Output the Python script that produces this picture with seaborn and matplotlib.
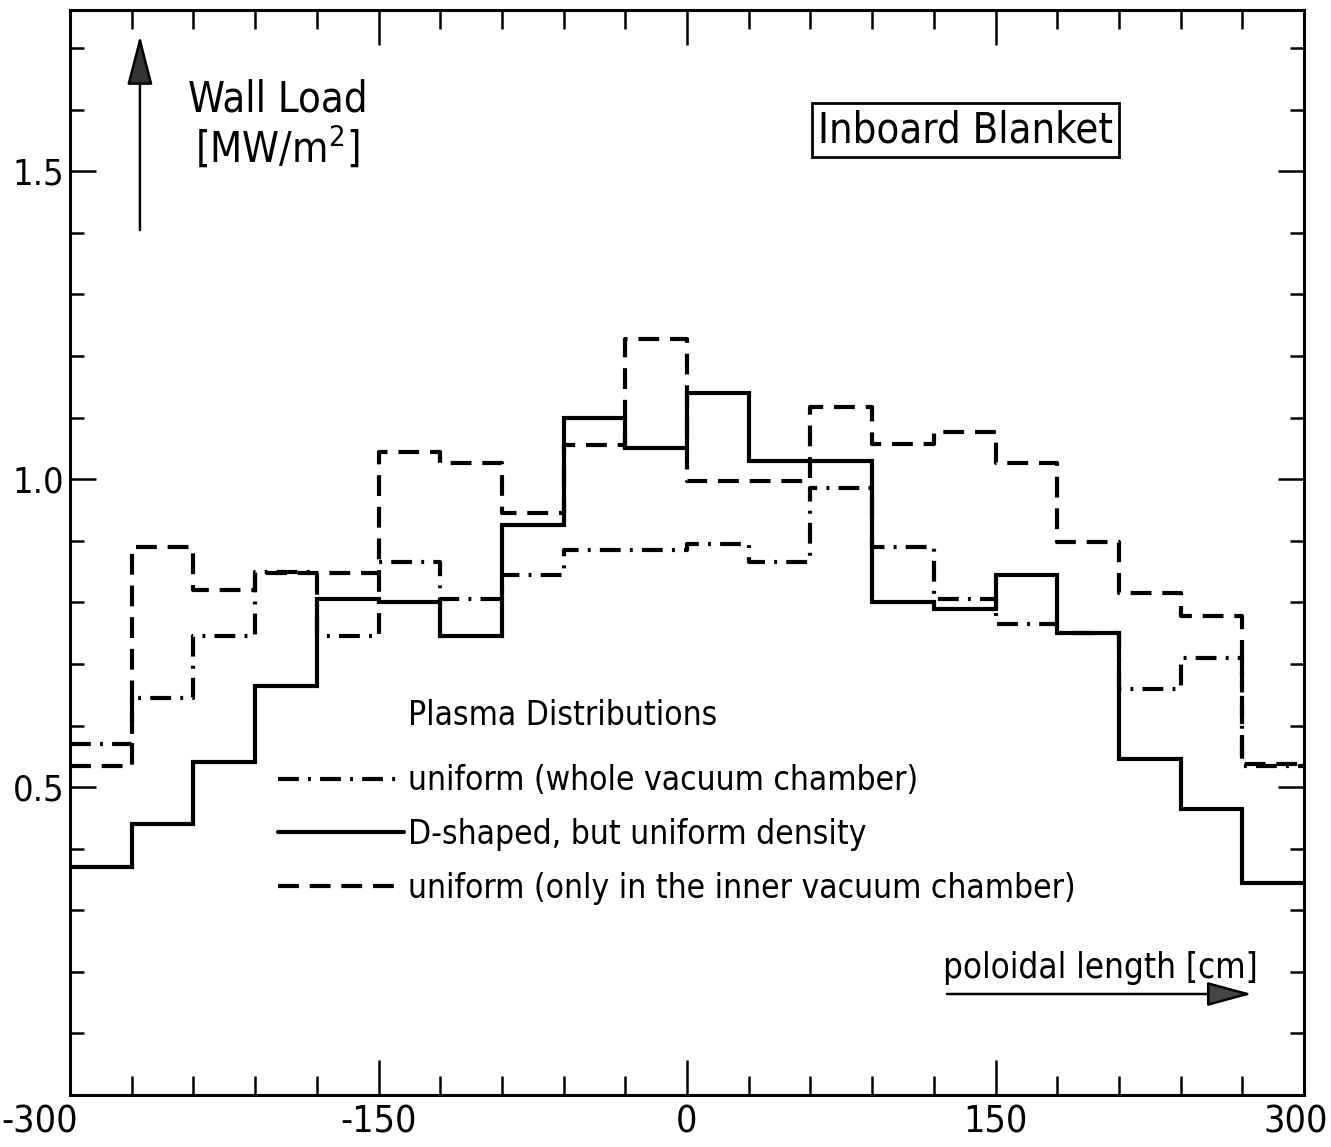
import matplotlib
matplotlib.use("Agg")
import matplotlib.pyplot as plt
import matplotlib.transforms as mtransforms
import numpy as np
import pandas as pd
import seaborn as sns
from matplotlib.lines import Line2D

# ---- data ----
edges = list(range(-300, 301, 30))          # poloidal length bin edges [cm]
uniform_whole = [0.57, 0.645, 0.745, 0.85, 0.745, 0.865, 0.805, 0.845, 0.885, 0.885,
                 0.895, 0.865, 0.985, 0.89, 0.805, 0.765, 0.75, 0.66, 0.71, 0.535]
d_shaped = [0.37, 0.44, 0.54, 0.665, 0.805, 0.80, 0.745, 0.925, 1.10, 1.05,
            1.14, 1.03, 1.03, 0.80, 0.79, 0.845, 0.75, 0.545, 0.465, 0.345]
uniform_inner = [0.535, 0.89, 0.82, 0.847, 0.847, 1.045, 1.026, 0.945, 1.055, 1.227,
                 0.997, 0.997, 1.117, 1.057, 1.077, 1.027, 0.898, 0.815, 0.778, 0.538]
labels = ["uniform (whole vacuum chamber)",
          "D-shaped, but uniform density",
          "uniform (only in the inner vacuum chamber)"]
x_ticklabels = ["-300", "-150", "0", "150", "300"]
y_ticklabels = ["0.5", "1.0", "1.5"]

sns.set_style("ticks")
plt.rcParams["font.family"] = ["DejaVu Sans"]
plt.rcParams["font.stretch"] = "condensed"
for k in ["text.color", "axes.labelcolor", "xtick.color", "ytick.color", "axes.edgecolor"]:
    plt.rcParams[k] = "black"

W, H = 1331, 1147
fig = plt.figure(figsize=(W / 100, H / 100), dpi=100)
ax = fig.add_axes([70 / W, 1 - 1095 / H, 1234 / W, 1085 / H])

LW = 3.0
styles = [(0, (5, 2.2, 0.7, 2.2)), "-", (0, (5, 2.6))]
series = [uniform_whole, d_shaped, uniform_inner]
for vals, ls in zip(series, styles):
    df = pd.DataFrame({"x": edges, "y": vals + [vals[-1]]})
    sns.lineplot(data=df, x="x", y="y", ax=ax, drawstyle="steps-post",
                 color="black", lw=LW, estimator=None)
    ax.lines[-1].set_linestyle(ls)
    ax.lines[-1].set_solid_joinstyle("miter")

ax.set_xlim(-300, 300)
ax.set_ylim(0.0, 1.762)
ax.set_xlabel("")
ax.set_ylabel("")

ax.set_xticks([-300, -150, 0, 150, 300])
ax.set_xticklabels(x_ticklabels)
ax.set_xticks(list(range(-300, 301, 30)), minor=True)
ax.set_yticks([0.5, 1.0, 1.5])
ax.set_yticklabels(y_ticklabels)
ax.set_yticks([round(0.1 * i, 1) for i in range(1, 18)], minor=True)

ax.tick_params(which="both", direction="in", top=True, right=True, width=1.8, color="black")
ax.tick_params(axis="x", which="major", length=25, labelsize=27, pad=7)
ax.tick_params(axis="x", which="minor", length=14)
ax.tick_params(axis="y", which="major", length=19, labelsize=26, pad=4)
ax.tick_params(axis="y", which="minor", length=10)
for sp in ax.spines.values():
    sp.set_linewidth(2.2)
    sp.set_color("black")

# y-axis title with arrow
ax.annotate("", xy=(-266, 1.725), xytext=(-266, 1.40),
            arrowprops=dict(arrowstyle="-|>,head_length=1.55,head_width=0.4",
                            mutation_scale=20, lw=1.8, color="black", fc="#333333"))
ax.text(-199, 1.575, "Wall Load\n[MW/m$^2$]", ha="center", va="center",
        fontsize=30, linespacing=1.1)

# boxed title
ax.text(135.5, 1.567, "Inboard Blanket", ha="center", va="center", fontsize=30,
        bbox=dict(boxstyle="square,pad=0.15", fc="white", ec="black", lw=2))

# x-axis title with arrow
ax.annotate("", xy=(276, 0.164), xytext=(125, 0.164),
            arrowprops=dict(arrowstyle="-|>,head_length=1.4,head_width=0.38",
                            mutation_scale=20, lw=1.8, color="black", fc="#444444"))
ax.text(201, 0.19, "poloidal length [cm]", ha="center", va="baseline", fontsize=25)

# legend
ax.text(-135.5, 0.616, "Plasma Distributions", ha="left", va="center", fontsize=24)
handles = [Line2D([], [], color="black", lw=LW, linestyle=s) for s in styles]
leg = ax.legend(handles, labels, loc="upper left", bbox_to_anchor=(-199, 0.537),
                bbox_transform=ax.transData, frameon=False, fontsize=24,
                handlelength=3.8, handletextpad=0.1, labelspacing=0.62,
                borderpad=0, borderaxespad=0)

# shift the two end x tick labels like in the reference
xt = ax.get_xticklabels()
xt[0].set_transform(xt[0].get_transform() +
                    mtransforms.ScaledTranslation(-30 / 100, 0, fig.dpi_scale_trans))
xt[-1].set_transform(xt[-1].get_transform() +
                     mtransforms.ScaledTranslation(-8 / 100, 0, fig.dpi_scale_trans))

fig.savefig("out.png", dpi=100)
